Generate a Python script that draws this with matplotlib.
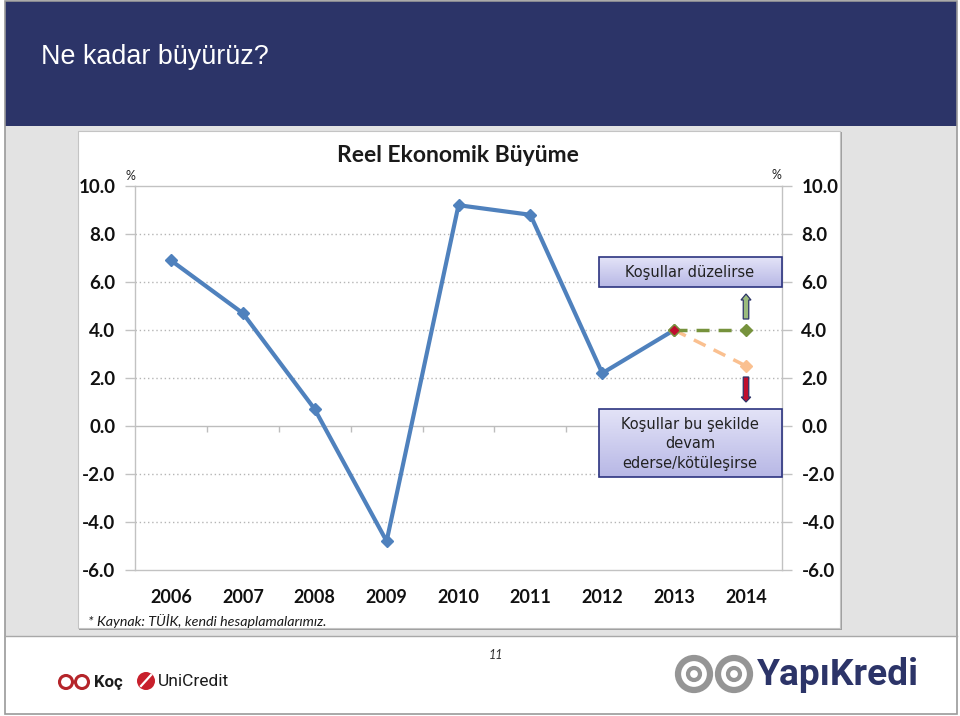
import numpy as np
import matplotlib
matplotlib.use("Agg")
import matplotlib.pyplot as plt
from matplotlib.patches import Rectangle, Ellipse, FancyArrow, Circle

years = [2006, 2007, 2008, 2009, 2010, 2011, 2012, 2013, 2014]
growth_years = [2006, 2007, 2008, 2009, 2010, 2011, 2012, 2013]
growth = [6.9, 4.7, 0.7, -4.8, 9.2, 8.8, 2.2, 4.0]
better_years = [2013, 2014]
better = [4.0, 4.0]
worse_years = [2013, 2014]
worse = [4.0, 2.5]
y_ticks = [10, 8, 6, 4, 2, 0, -2, -4, -6]
y_labels = ["10.0", "8.0", "6.0", "4.0", "2.0", "0.0", "-2.0", "-4.0", "-6.0"]
title = "Ne kadar büyürüz?"
chart_title = "Reel Ekonomik Büyüme"
source = "* Kaynak: TÜİK, kendi hesaplamalarımız."
box_up = "Koşullar düzelirse"
box_down = "Koşullar bu şekilde\ndevam\nederse/kötüleşirse"

W, H = 960, 716
fig = plt.figure(figsize=(W / 100, H / 100), dpi=100, facecolor="white")

# slide background in pixel coordinates
bg = fig.add_axes([0, 0, 1, 1], zorder=0)
bg.set_xlim(0, W); bg.set_ylim(H, 0); bg.axis("off")
bg.add_patch(Rectangle((5, 1), 952, 125, fc="#2c3468", ec="none"))
bg.add_patch(Rectangle((5, 126), 952, 510, fc="#e3e3e3", ec="none"))
bg.add_patch(Rectangle((5, 1), 952, 713, fc="none", ec="#9a9a9a", lw=1.2))
bg.plot([5, 957], [636, 636], color="#a8a8a8", lw=1)
bg.add_patch(Rectangle((79, 132), 763, 498, fc="#a0a0a0", ec="none"))
bg.add_patch(Rectangle((78, 131), 762, 497, fc="white", ec="#c4c4c4", lw=0.8))
bg.text(41, 57, title, color="white", fontsize=19.4, family="Liberation Sans",
        va="center", ha="left")
bg.text(458, 155.5, chart_title, fontsize=16.5, fontweight="bold", family="Lato",
        color="#1a1a1a", ha="center", va="center")
bg.text(130, 176, "%", fontsize=9, family="Lato", color="#222222", ha="center", va="center")
bg.text(776, 175, "%", fontsize=9, family="Lato", color="#222222", ha="center", va="center")
src = bg.text(88, 621, source, fontsize=10.3, style="italic", family="Lato",
              color="#1a1a1a", ha="left", va="center")
src.set_clip_path(Rectangle((78, 131), 762, 493, transform=bg.transData))
bg.text(496, 655, "11", fontsize=9, style="italic", family="Lato", color="#333333",
        ha="center", va="center")

# logos
def ring(ax, x, y, r, color, lw):
    ax.add_patch(Ellipse((x, y), 2 * r, 2 * r, fc="none", ec=color, lw=lw))
for cx in (694, 734):
    ring(bg, cx, 674, 16, "#959595", 4.5)
    ring(bg, cx, 674, 6, "#959595", 3)
for cx in (66, 82):
    ring(bg, cx, 682, 6.5, "#b5252a", 2.2)
bg.text(757, 675, "YapıKredi", fontsize=26.7, fontweight="bold", family="Roboto",
        color="#2c3468", ha="left", va="center")
bg.text(94, 682, "Koç", fontsize=12, fontweight="bold", family="Roboto",
        color="#1c1c1c", ha="left", va="center")
bg.add_patch(Circle((146, 681), 9, fc="#c8202c", ec="none"))
bg.plot([141, 151], [686, 675], color="white", lw=1.6)
bg.text(158, 682, "UniCredit", fontsize=12.5, family="Roboto", color="#1c1c1c",
        ha="left", va="center")

# chart axes
x0, x1, ytop, ybot = 135, 782, 186, 570
ax = fig.add_axes([x0 / W, 1 - ybot / H, (x1 - x0) / W, (ybot - ytop) / H], zorder=1)
ax.patch.set_alpha(0)
ax.set_xlim(2005.5, 2014.5)
ax.set_ylim(-6, 10)
for s in ("left", "right", "top", "bottom"):
    ax.spines[s].set_color("#c2c2c2")
    ax.spines[s].set_linewidth(1.0)
for v in y_ticks[1:-1]:
    if v == 0:
        ax.axhline(v, color="#bdbdbd", lw=1.0, zorder=1)
    else:
        ax.axhline(v, color="#b5b5b5", lw=1.0, ls=(0, (1, 2)), zorder=1)
ax.vlines(np.array(years[:-1]) + 0.5, -0.25, 0, color="#bdbdbd", lw=1.0, zorder=1)

ax.set_yticks(y_ticks)
ax.set_yticklabels(y_labels, fontsize=13.5, fontweight="bold", family="Lato", color="#111111")
ax.tick_params(axis="y", length=7, width=1, color="#c2c2c2", pad=7,
               left=True, right=True, labelleft=True, labelright=True)
ax.set_xticks(years)
ax.set_xticklabels([str(v) for v in years], fontsize=13, fontweight="bold", family="Lato",
                   color="#111111")
ax.tick_params(axis="x", length=0, pad=14)

ax.plot(growth_years, growth, color="#4f81bd", lw=3.0, marker="D", ms=6.5, mec="#4f81bd",
        zorder=4, solid_joinstyle="round")
ax.plot(better_years, better, color="#76923c", lw=2.5, ls=(0, (3.75, 2.6)), marker="D", ms=6,
        mec="#76923c", zorder=5)
ax.plot(worse_years, worse, color="#fac090", lw=2.5, ls=(0, (3.75, 2.6)), marker="D", ms=6.5,
        mec="#fac090", zorder=4.5)
ax.plot(better_years[:1], better[:1], ls="none", marker="D", ms=4.5, color="#c00d2e",
        mec="#c00d2e", zorder=6)

# overlay: boxes and arrows in pixel coordinates
ov = fig.add_axes([0, 0, 1, 1], zorder=2)
ov.set_xlim(0, W); ov.set_ylim(H, 0); ov.axis("off"); ov.patch.set_alpha(0)
grad = np.linspace(0, 1, 64)[:, None, None] * (np.array([0.72, 0.72, 0.90]) - np.array([0.89, 0.89, 0.97])) + np.array([0.89, 0.89, 0.97])
for (bx, by, bw, bh, txt) in [(599, 257, 183, 30, box_up), (599, 409, 183, 68, box_down)]:
    ov.imshow(grad, extent=(bx, bx + bw, by + bh, by), aspect="auto", zorder=2)
    ov.add_patch(Rectangle((bx, by), bw, bh, fc="none", ec="#2c3480", lw=1.2, zorder=3))
    ov.text(bx + bw / 2 - 0.5, by + bh / 2 + 1, txt, fontsize=10.5, family="DejaVu Sans", color="#222222",
            ha="center", va="center", linespacing=1.35, zorder=4)
ov.set_xlim(0, W); ov.set_ylim(H, 0)
ov.add_patch(FancyArrow(746, 319, 0, -25, width=5.5, head_width=10, head_length=6,
                        length_includes_head=True, fc="#9bbb7e", ec="#2c3468", lw=0.9, zorder=3))
ov.add_patch(FancyArrow(746, 377, 0, 25, width=5.5, head_width=9.5, head_length=5,
                        length_includes_head=True, fc="#c00d2e", ec="#2c3468", lw=0.9, zorder=3))

fig.savefig("out.png", dpi=100)
